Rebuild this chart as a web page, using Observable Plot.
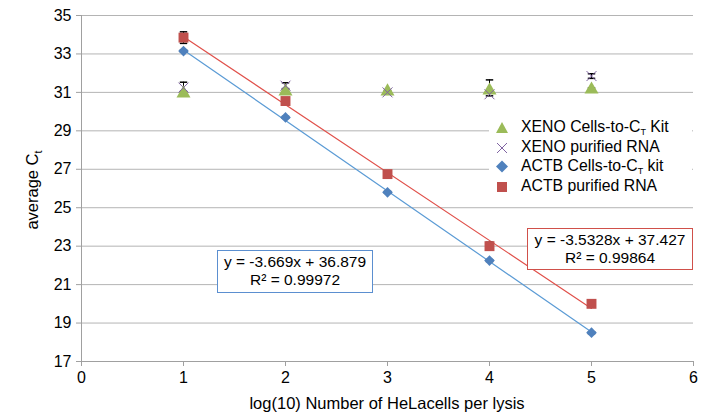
<!DOCTYPE html>
<html><head><meta charset="utf-8">
<script src="https://cdn.jsdelivr.net/npm/d3@7"></script>
<script src="https://cdn.jsdelivr.net/npm/@observablehq/plot@0.6"></script>
<style>
body{margin:0;background:#fff;font-family:"Liberation Sans",Arial,sans-serif;}
#wrap{position:relative;width:702px;height:415px;}
.box{position:absolute;background:#fff;text-align:center;font-size:15.5px;line-height:18px;color:#000;box-sizing:border-box;}
.leg{position:absolute;left:489px;top:116px;width:203px;height:82px;background:#fff;font-size:15.8px;color:#000;}
.row{position:absolute;left:0;height:20px;line-height:20px;white-space:nowrap;}
.row svg{position:absolute;left:6px;top:4px;}
.row span{position:absolute;left:32px;top:0;}
sub{font-size:9px;vertical-align:-3px;}
</style></head><body><div id="wrap"></div>
<script>
// ---- data ----
const xLevels = [1, 2, 3, 4, 5];
const seriesNames = ["XENO Cells-to-CT Kit", "XENO purified RNA", "ACTB Cells-to-CT kit", "ACTB purified RNA"];
const xenoKit       = [30.95, 31.05, 31.05, 31.1, 31.15];
const xenoKitErrUp  = [0.1, 0.12, 0.05, 0.55, 0.08];
const xenoKitErrDn  = [0.1, 0.12, 0.05, 0.05, 0.08];
const xenoRna       = [31.25, 31.35, 31.0, 30.9, 31.85];
const xenoRnaErr    = [0.28, 0.15, 0.05, 0.08, 0.12];
const actbKit       = [33.15, 29.7, 25.8, 22.25, 18.5];
const actbKitErr    = [0.05, 0.05, 0.05, 0.05, 0.05];
const actbRna       = [33.85, 30.55, 26.75, 23.0, 20.0];
const actbRnaErr    = [0.3, 0.06, 0.12, 0.2, 0.05];
const fitSlope     = [-3.669, -3.5328];
const fitIntercept = [36.879, 37.427];
const fitR2        = [0.99972, 0.99864];
const xTicks = [0, 1, 2, 3, 4, 5, 6];
const yTicks = [17, 19, 21, 23, 25, 27, 29, 31, 33, 35];

const colors = {green: "#9bbb59", purple: "#8064a2", blue: "#4f81bd", red: "#c0504d"};

const vals = [xenoKit, xenoRna, actbKit, actbRna];
const errsUp = [xenoKitErrUp, xenoRnaErr, actbKitErr, actbRnaErr];
const errsDn = [xenoKitErrDn, xenoRnaErr, actbKitErr, actbRnaErr];
const rows = [];
vals.forEach((arr, s) => arr.forEach((v, i) => rows.push({s, x: xLevels[i], y: v, lo: v - errsDn[s][i], hi: v + errsUp[s][i]})));
const ser = s => rows.filter(d => d.s === s);
const fitLine = k => [xLevels[0], xLevels[xLevels.length - 1]].map(x => ({x, y: fitSlope[k] * x + fitIntercept[k]}));

const cap = {draw(ctx, size) { const w = Math.sqrt(size) / 2; ctx.moveTo(-w, 0); ctx.lineTo(w, 0); }};

const chart = Plot.plot({
  width: 702, height: 415,
  marginLeft: 81, marginRight: 9, marginTop: 15, marginBottom: 54,
  style: {fontFamily: "Liberation Sans, Arial, sans-serif", fontSize: "16px", background: "#fff"},
  x: {domain: [0, 6]},
  y: {domain: [17, 35]},
  marks: [
    Plot.gridY(yTicks, {stroke: "#b4b4b4", strokeOpacity: 1}),
    Plot.ruleX([0], {stroke: "#a0a0a0"}),
    Plot.ruleY([17], {stroke: "#a0a0a0"}),
    Plot.axisX(xTicks, {tickSize: 5, tickPadding: 5, stroke: "#a0a0a0", label: null, fill: "#000", tickFormat: d => d}),
    Plot.axisY(yTicks, {tickSize: 5, tickPadding: 5, stroke: "#a0a0a0", label: null, fill: "#000"}),
    Plot.line(fitLine(0), {x: "x", y: "y", stroke: "#5b9bd5", strokeWidth: 1.2}),
    Plot.line(fitLine(1), {x: "x", y: "y", stroke: "#e0504a", strokeWidth: 1.2}),
    // error bars
    Plot.ruleX(rows, {x: "x", y1: "lo", y2: "hi", stroke: "#000", strokeWidth: 1}),
    Plot.dot(rows, {x: "x", y: "hi", symbol: cap, r: 4.2, fill: "none", stroke: "#000", strokeWidth: 1.5}),
    Plot.dot(rows, {x: "x", y: "lo", symbol: cap, r: 4.2, fill: "none", stroke: "#000", strokeWidth: 1.5}),
    // markers
    Plot.dot(ser(0), {x: "x", y: "y", symbol: "triangle", r: 5.2, fill: colors.green, stroke: "none"}),
    Plot.dot(ser(1), {x: "x", y: "y", symbol: "times", r: 4.6, fill: "none", stroke: colors.purple, strokeWidth: 1}),
    Plot.dot(ser(2), {x: "x", y: "y", symbol: "diamond2", r: 4.8, fill: colors.blue, stroke: "none"}),
    Plot.dot(ser(3), {x: "x", y: "y", symbol: "square", r: 5.6, fill: colors.red, stroke: "none"})
  ]
});
const wrap = document.getElementById("wrap");
wrap.appendChild(chart);

const svg = d3.select(chart);
const yt = svg.append("text").attr("transform", "translate(38,190) rotate(-90)")
  .attr("text-anchor", "middle").attr("font-size", 16.5).attr("fill", "#000");
yt.append("tspan").text("average C");
yt.append("tspan").attr("font-size", 11).attr("dy", 4).text("t");
svg.append("text").attr("x", 387).attr("y", 409).attr("text-anchor", "middle")
  .attr("font-size", 16.5).attr("fill", "#000").text("log(10) Number of HeLacells per lysis");

// equation boxes
function eqBox(k, left, top, w, h, color) {
  const d = document.createElement("div");
  d.className = "box";
  Object.assign(d.style, {left: left + "px", top: top + "px", width: w + "px", height: h + "px",
    border: "1.5px solid " + color, paddingTop: "2px"});
  d.innerHTML = `y = ${fitSlope[k]}x + ${fitIntercept[k]}<br>R² = ${fitR2[k]}`;
  wrap.appendChild(d);
}
eqBox(0, 217, 250, 156, 43, "#5b8fd0");
eqBox(1, 527, 228, 166, 42, "#d0504a");

// legend
const leg = document.createElement("div");
leg.className = "leg";
const symSvg = [
  `<svg width="14" height="13"><path d="M7,1 L13,12 L1,12 Z" fill="${colors.green}"/></svg>`,
  `<svg width="14" height="13"><path d="M2,2 L12,12 M12,2 L2,12" stroke="${colors.purple}" stroke-width="1"/></svg>`,
  `<svg width="14" height="13"><path d="M7,0.5 L13,6.5 L7,12.5 L1,6.5 Z" fill="${colors.blue}"/></svg>`,
  `<svg width="14" height="13"><rect x="2" y="2" width="10" height="10" fill="${colors.red}"/></svg>`
];
const labels = ["XENO Cells-to-C<sub>T</sub> Kit", "XENO purified RNA", "ACTB Cells-to-C<sub>T</sub> kit", "ACTB purified RNA"];
labels.forEach((t, i) => {
  const r = document.createElement("div");
  r.className = "row";
  r.style.top = (1 + i * 19.5) + "px";
  r.innerHTML = symSvg[i] + `<span>${t}</span>`;
  leg.appendChild(r);
});
wrap.appendChild(leg);
</script></body></html>
